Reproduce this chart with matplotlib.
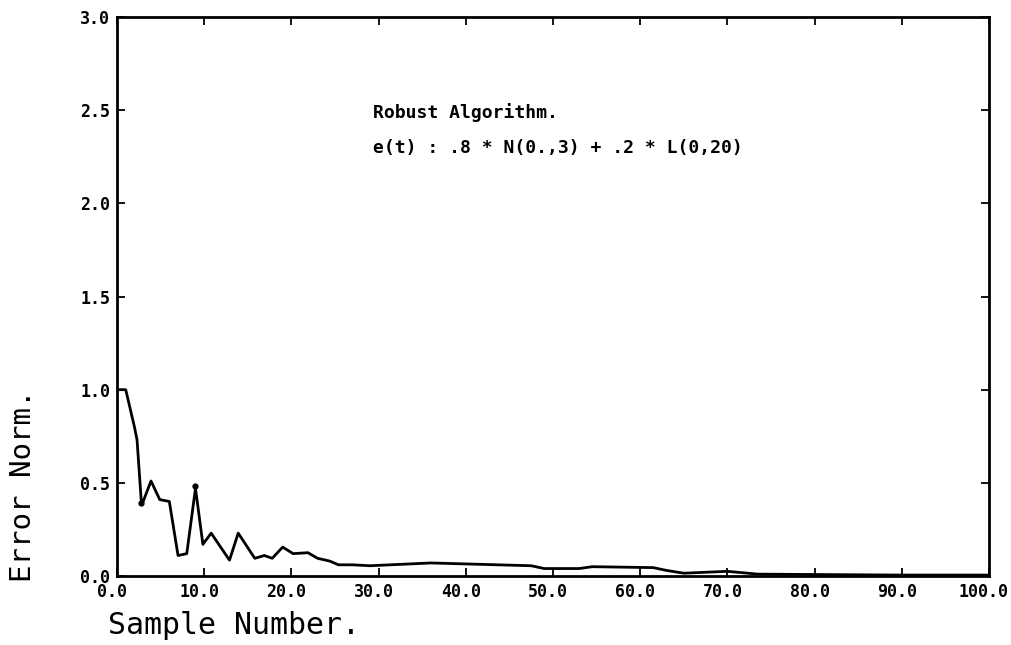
import matplotlib.pyplot as plt
import matplotlib.transforms as mtransforms
import numpy as np

# error norm vs sample number
sample = [0, 1, 2, 2.3, 2.8, 3, 3.9, 4.9, 6, 7, 8, 9, 9.85, 10.8, 12.9, 13.9,
          15.8, 16.9, 17.8, 19, 20.2, 21.9, 23, 24.4, 25.4, 27, 29, 36, 47.5,
          49, 53, 54.5, 61.5, 63, 65, 70, 73.5, 80, 90, 100]
error_norm = [1.0, 1.0, 0.80, 0.73, 0.39, 0.40, 0.51, 0.41, 0.40, 0.11, 0.12,
              0.47, 0.17, 0.23, 0.085, 0.23, 0.095, 0.11, 0.095, 0.155, 0.12,
              0.125, 0.095, 0.08, 0.06, 0.06, 0.055, 0.07, 0.055, 0.04, 0.04,
              0.05, 0.045, 0.03, 0.015, 0.025, 0.01, 0.008, 0.005, 0.005]

x_ticks = np.arange(0, 101, 10)
y_ticks = np.arange(0, 3.01, 0.5)
x_labels = [f"{v:.1f}" for v in x_ticks]
y_labels = [f"{v:.1f}" for v in y_ticks]

title_lines = ["Robust Algorithm.", "e(t) : .8 * N(0.,3) + .2 * L(0,20)"]

MONO = "DejaVu Sans Mono"

fig = plt.figure(figsize=(10.12, 6.45), dpi=100)
ax = fig.add_axes([117 / 1012, 1 - 576 / 645, 872 / 1012, 559 / 645])

ax.plot(sample, error_norm, color="black", lw=2.0)
# small dots the plotter left on a dip and a peak
ax.plot([sample[4], sample[11]], [error_norm[4], error_norm[11] + 0.015],
        "o", color="black", ms=3.5)

ax.set_xlim(0, 100)
ax.set_ylim(0, 3.0)
ax.set_xticks(x_ticks)
ax.set_yticks(y_ticks)
ax.set_xticklabels(x_labels, fontsize=12, fontweight="bold", family=MONO)
ax.set_yticklabels(y_labels, fontsize=12, fontweight="bold", family=MONO)
ax.tick_params(direction="in", length=6, width=1.3, top=True, right=True)
ax.tick_params(axis="x", pad=5)
ax.tick_params(axis="y", pad=5)
shift = mtransforms.ScaledTranslation(-5 / 100, 0, fig.dpi_scale_trans)
for lab in ax.get_xticklabels():
    lab.set_transform(lab.get_transform() + shift)
for s in ax.spines.values():
    s.set_linewidth(2)

ax.text(0.2936, 0.830, title_lines[0], transform=ax.transAxes, va="center",
        fontsize=13, fontweight="bold", family=MONO)
ax.text(0.2936, 0.766, title_lines[1], transform=ax.transAxes, va="center",
        fontsize=13, fontweight="bold", family=MONO)

fig.text(23 / 1012, 1 - 486 / 645, "Error Norm.", rotation=90,
         ha="center", va="center", fontsize=21, family=MONO)
fig.text(108 / 1012, 1 - 626 / 645, "Sample Number.", ha="left", va="center",
         fontsize=21.5, family=MONO)

fig.savefig("out.png", dpi=100)
